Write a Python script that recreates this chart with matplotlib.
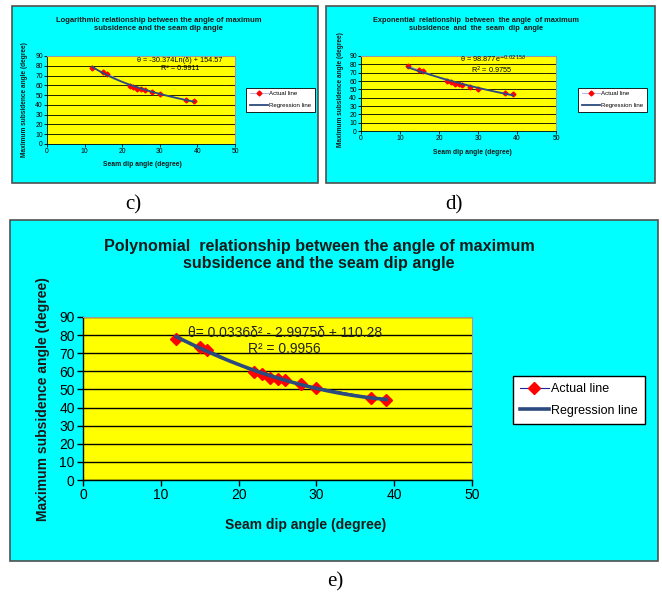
import numpy as np
import matplotlib
matplotlib.use('Agg')
import matplotlib.pyplot as plt
from matplotlib.patches import Rectangle

# measured data (seam dip angle vs angle of maximum subsidence)
dip = [12, 15, 16, 22, 23, 24, 25, 26, 28, 30, 37, 39]
theta = [78, 73.5, 72, 59.5, 58.5, 56.5, 56, 55, 53, 51, 45.5, 44]

# trendline coefficients as printed on the charts
log_a, log_b = -30.374, 154.57
exp_a, exp_k = 98.877, -0.0215
poly_c = [0.0336, -2.9975, 110.28]

eq_log = ['θ = -30.374Ln(δ) + 154.57', 'R² = 0.9911']
eq_exp = ['θ = 98.877e$^{-0.0215δ}$', 'R$^2$ = 0.9755']
eq_poly = ['θ= 0.0336δ² - 2.9975δ + 110.28', 'R² = 0.9956']

titles = ['Logarithmic relationship between the angle of maximum\nsubsidence and the seam dip angle',
          'Exponential  relationship  between  the angle  of maximum\nsubsidence  and  the  seam  dip  angle',
          'Polynomial  relationship between the angle of maximum\nsubsidence and the seam dip angle']

W, H = 662, 594
fig = plt.figure(figsize=(W / 100, H / 100), dpi=100)
fig.patch.set_facecolor('white')

SANS = 'Liberation Sans'
CYAN = '#00FFFF'
YELLOW = '#FFFF00'
NAVY = '#2B4A7E'


def fx(x):
    return x / W


def fy(y):
    return 1 - y / H


def panel_box(x0, y0, x1, y1):
    fig.patches.append(Rectangle((fx(x0), fy(y1)), fx(x1) - fx(x0), fy(y0) - fy(y1),
                                 transform=fig.transFigure, facecolor=CYAN,
                                 edgecolor='#505050', lw=1.2, zorder=-5))


def plot_axes(x0, y0, x1, y1):
    return fig.add_axes([fx(x0), fy(y1), fx(x1) - fx(x0), fy(y0) - fy(y1)])


def fig_text(x, y, s, **kw):
    fig.text(fx(x), fy(y), s, ha='center', va='center', family=SANS, **kw)


def draw(ax, xfit, yfit, big, legend_center):
    fs = 10 if big else 4.9
    ax.set_facecolor(YELLOW)
    ax.set_xlim(0, 50)
    ax.set_ylim(0, 90)
    ax.set_xticks(range(0, 51, 10))
    ax.set_yticks(range(0, 91, 10))
    ax.grid(axis='y', color='black', lw=1.0 if big else 0.6)
    ax.set_axisbelow(True)
    for s in ['top', 'right']:
        ax.spines[s].set_color('#9a9a9a')
        ax.spines[s].set_linewidth(0.8)
    for s in ['left', 'bottom']:
        ax.spines[s].set_color('black')
        ax.spines[s].set_linewidth(1.0 if big else 0.6)
    ax.tick_params(labelsize=fs, length=4 if big else 2, width=1.0 if big else 0.6, pad=2 if big else 1)
    for lab in ax.get_xticklabels() + ax.get_yticklabels():
        lab.set_family(SANS)
    if big:
        a, = ax.plot(dip, theta, color='#1F1F9F', lw=0.8, marker='D', ms=6.5,
                     mfc='red', mec='red', label='Actual line', zorder=3)
        r, = ax.plot(xfit, yfit, color=NAVY, lw=2.6, label='Regression line', zorder=4)
    else:
        a, = ax.plot(dip, theta, color='#A7A7E8', lw=0.6, marker='D', ms=2.5,
                     mfc='red', mec='red', label='Actual line', zorder=3)
        r, = ax.plot(xfit, yfit, color=NAVY, lw=1.3, label='Regression line', zorder=4)
    cx, cy = legend_center
    leg = fig.legend(handles=[a, r], loc='center',
                     bbox_to_anchor=(fx(cx), fy(cy)),
                     bbox_transform=fig.transFigure,
                     prop={'family': SANS, 'size': 9 if big else 4.4},
                     frameon=True, fancybox=False, framealpha=1, facecolor='white',
                     borderpad=0.55 if big else 0.6,
                     handlelength=2.3 if big else 3.0, handletextpad=0.2,
                     labelspacing=0.75 if big else 1.0, borderaxespad=0)
    leg.get_frame().set_edgecolor('black')
    leg.get_frame().set_linewidth(1.0 if big else 0.6)


xfit = np.linspace(min(dip), max(dip), 120)

# panel c) logarithmic
panel_box(12, 6, 318, 183)
ax_c = plot_axes(47, 56, 235, 144)
draw(ax_c, xfit, log_a * np.log(xfit) + log_b, False, (280.5, 99.5))
fig_text(159, 24.5, titles[0], fontsize=5.5, weight='bold', linespacing=1.2, color='#1a1a1a')
fig_text(180, 60, eq_log[0], fontsize=5.3)
fig_text(180, 69, eq_log[1], fontsize=5.3)
fig_text(142, 164, 'Seam dip angle (degree)', fontsize=4.9, weight='bold', color='#1a1a1a')
fig_text(25, 100, 'Maximum subsidence angle (degree)', fontsize=4.7, weight='bold',
         rotation=90, color='#1a1a1a')

# panel d) exponential
panel_box(326, 6, 655, 183)
ax_d = plot_axes(361, 56, 556, 131)
draw(ax_d, xfit, exp_a * np.exp(exp_k * xfit), False, (612.5, 99.5))
fig_text(476, 24.5, titles[1], fontsize=5.3, weight='bold', linespacing=1.2, color='#1a1a1a')
fig_text(493, 59.5, eq_exp[0], fontsize=5.3)
fig_text(492, 70, eq_exp[1], fontsize=5.3)
fig_text(472, 153, 'Seam dip angle (degree)', fontsize=4.9, weight='bold', color='#1a1a1a')
fig_text(340, 90, 'Maximum subsidence angle (degree)', fontsize=4.7, weight='bold',
         rotation=90, color='#1a1a1a')

# panel e) polynomial
panel_box(10, 220, 658, 561)
ax_e = plot_axes(83, 317, 472, 480)
draw(ax_e, xfit, np.polyval(poly_c, xfit), True, (579, 400))
fig_text(319, 255, titles[2], fontsize=11.6, weight='bold', linespacing=1.2, color='#1a1a1a')
fig_text(285, 333, eq_poly[0], fontsize=10, color='#222222')
fig_text(284, 349, eq_poly[1], fontsize=10, color='#222222')
fig_text(306, 525, 'Seam dip angle (degree)', fontsize=10, weight='bold', color='#1a1a1a')
fig_text(43, 399, 'Maximum subsidence angle (degree)', fontsize=10, weight='bold',
         rotation=90, color='#1a1a1a')

# sub-figure letters
for x, y, s in [(133, 205, 'c)'), (454, 205, 'd)'), (335, 582, 'e)')]:
    fig.text(fx(x), fy(y), s, ha='center', va='center', family='Liberation Serif', fontsize=15)

fig.savefig('out.png', dpi=100)
